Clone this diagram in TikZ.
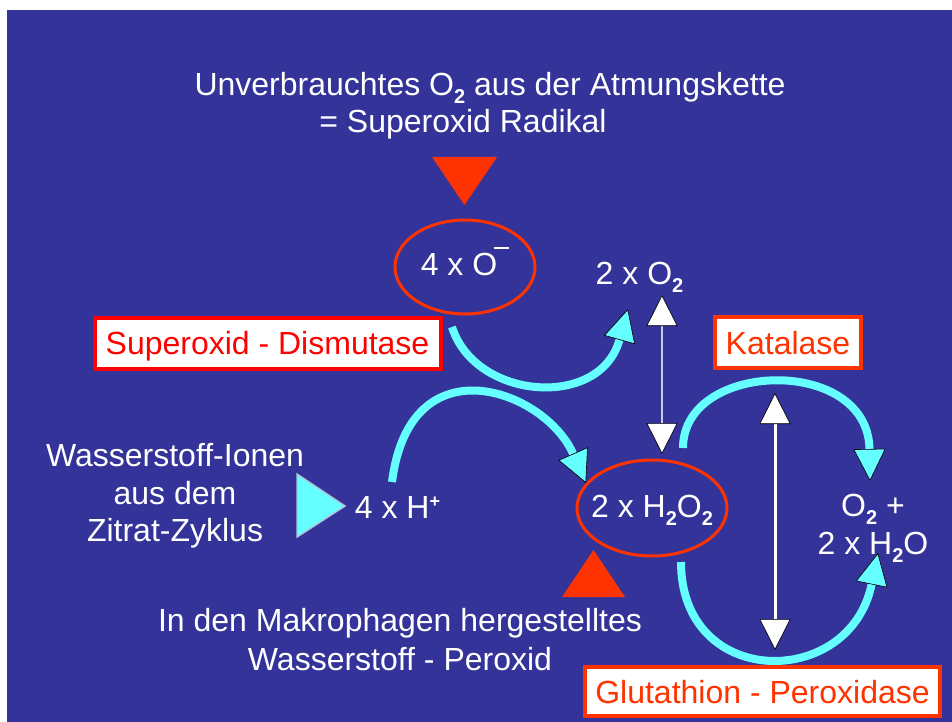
\documentclass[tikz,border=0pt]{standalone}
\usepackage{fontspec}
\setmainfont{Liberation Sans}
\usepackage{xcolor}
\usepackage{tikz}
\usetikzlibrary{shapes, shapes.geometric, arrows.meta, positioning}
\definecolor{slideblue}{RGB}{51, 51, 153}
\definecolor{slidecyan}{RGB}{102, 255, 255}
\definecolor{slidered}{RGB}{255, 51, 0}
\definecolor{boxred}{RGB}{255, 0, 0}
\definecolor{linelilac}{RGB}{200, 200, 235}
\definecolor{tribord}{RGB}{176, 196, 222}

\newcommand{\chemsub}[1]{\raisebox{-8pt}{\fontsize{20}{20}\selectfont\bfseries #1}}
\newcommand{\chemplus}{\raisebox{11pt}{\fontsize{18}{18}\selectfont\bfseries +}}
\newcommand{\chemminus}{\kern-3pt\raisebox{26pt}{\rule{15pt}{2.5pt}}}

\tikzset{
    ctip/.tip = {Triangle[length=32pt, width=32pt, color=black, fill=slidecyan, line width=0.6pt]},
    wtip/.tip = {Triangle[length=31pt, width=31pt, color=black, fill=white, line width=0.6pt]},
}

\begin{document}
\begin{tikzpicture}[
    x=1pt, y=-1pt,
    every node/.style = {font=\fontsize{32}{38}\selectfont, text=white},
    enzymebox/.style = {
        rectangle, draw=slidered, fill=white,
        line width=4pt, inner sep=0pt,
        text height=23pt, text depth=0pt, text=slidered
    },
    molellipse/.style = {
        ellipse, draw=slidered, line width=3pt,
        inner sep=0pt, text height=23pt
    },
    cyanarr/.style = {-ctip, slidecyan, line width=8pt},
    whitearr/.style = {wtip-wtip},
]

% Background
\useasboundingbox (0,0) rectangle (952,722);
\fill[white] (0,0) rectangle (952,722);
\fill[slideblue] (7,10) rectangle (952,722);

% Source: superoxide radical
\node[anchor=base] (top1) at (490,96) {Unverbrauchtes O\chemsub{2} aus der Atmungskette};
\node[anchor=base] (top2) at (463,133) {= Superoxid Radikal};
\fill[slidered] (432,157) -- (497,157) -- (464.5,205) -- cycle;

% Molecules
\node[molellipse, minimum width=140pt, minimum height=94pt, text depth=7pt] (o4) at (465,267) {4 x O\chemminus};
\node[anchor=base] (o2) at (639.5,284) {2 x O\chemsub{2}};
\node[molellipse, minimum width=150pt, minimum height=96pt, text depth=5pt, inner xsep=-9pt] (h2o2) at (652,508) {2 x H\chemsub{2}O\chemsub{2}};
\node[anchor=base] (hplus) at (397.5,518) {4 x H\chemplus};
\node[align=center, font=\fontsize{32}{38}\selectfont] (prod) at (873,528) {O\chemsub{2} +\\2 x H\chemsub{2}O};

% Enzymes
\node[enzymebox, draw=boxred, text=boxred, minimum width=346pt, minimum height=51pt] (sod) at (267.5,343) {Superoxid - Dismutase};
\node[enzymebox, minimum width=146pt, minimum height=51pt] (kat) at (788,342.5) {Katalase};
\node[enzymebox, minimum width=355pt, minimum height=49pt] (gpx) at (762.5,691.5) {Glutathion - Peroxidase};

% Other sources
\node[align=center, font=\fontsize{32}{37.5}\selectfont] (zitrat) at (175,496) {Wasserstoff-Ionen\\aus dem\\Zitrat-Zyklus};
\filldraw[fill=slidecyan, draw=tribord, line width=1.5pt] (297,474) -- (297,537) -- (345,506) -- cycle;
\fill[slidered] (562,597) -- (625,597) -- (593.5,550) -- cycle;
\node[align=center, font=\fontsize{32}{39}\selectfont] (makro) at (400,640) {In den Makrophagen hergestelltes\\Wasserstoff - Peroxid};

% Arrow ends
\coordinate (sodfrom) at (452,327);
\coordinate (sodto)   at (628,309);
\coordinate (hfrom)   at (392,482);
\coordinate (hto)     at (586,483);
\coordinate (katfrom) at (683,448);
\coordinate (katto)   at (870,481);
\coordinate (gpxfrom) at (681,562);
\coordinate (gpxto)   at (878,553);
\coordinate (o2tip)   at (662,295);
\coordinate (h2tip)   at (662,454);
\coordinate (kattip)  at (775,393);
\coordinate (gpxtip)  at (775,650);

% Arrows
\draw[cyanarr] (sodfrom) .. controls (475,400) and (600,410) .. (sodto);
\draw[cyanarr] (hfrom) .. controls (410,340) and (545,390) .. (hto);
\draw[cyanarr] (katfrom) .. controls (683,360) and (868,355) .. (katto);
\draw[cyanarr] (gpxfrom) .. controls (681,690) and (850,690) .. (gpxto);
\draw[whitearr, linelilac, line width=2pt] (o2tip) -- (h2tip);
\draw[whitearr, white, line width=3pt] (kattip) -- (gpxtip);

\end{tikzpicture}
\end{document}
